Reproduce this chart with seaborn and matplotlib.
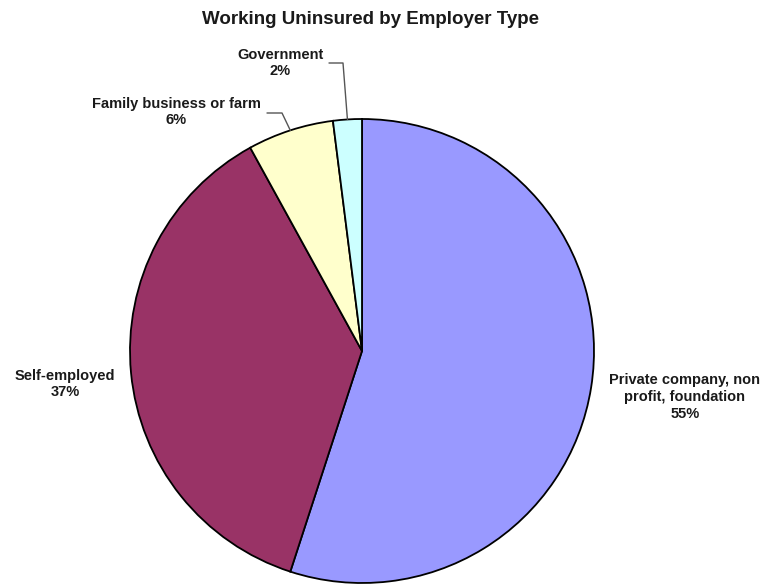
import matplotlib
matplotlib.use("Agg")
import numpy as np
import matplotlib.pyplot as plt
import seaborn as sns

# --- Data ---
title = "Working Uninsured by Employer Type"
categories = [
    "Private company, non\nprofit, foundation",
    "Self-employed",
    "Family business or farm",
    "Government",
]
shares = [55, 37, 6, 2]
colors = ["#9999FF", "#993366", "#FFFFCC", "#CCFFFF"]

# --- Style ---
sns.set_theme(style="white")
plt.rcParams["font.family"] = ["Liberation Sans", "DejaVu Sans"]

W, H = 765, 587
CX, CY, R = 362, 351, 232  # pie centre / radius in pixels


def px(x, y):
    # pixel position -> pie data coords
    return (x - CX) / R, (CY - y) / R


fig = plt.figure(figsize=(W / 100, H / 100), dpi=100)
ax = fig.add_axes([(CX - R) / W, (H - CY - R) / H, 2 * R / W, 2 * R / H])
wedges, _ = ax.pie(
    shares,
    colors=colors,
    startangle=90,
    counterclock=False,
    wedgeprops=dict(edgecolor="black", linewidth=1.3),
)
ax.set_xlim(-1, 1)
ax.set_ylim(-1, 1)
ax.set_aspect("equal")
ax.axis("off")

# --- Labels ---
label_pos = [(685, 397), (65, 384), (176, 112), (280, 63)]
leader_start = [None, None, (267, 113), (329, 63)]
leader_elbow = [None, None, (282, 113), (343, 63)]

for w, name, val, pos, st, el in zip(
    wedges, categories, shares, label_pos, leader_start, leader_elbow
):
    lx, ly = px(*pos)
    ax.text(lx, ly, f"{name}\n{val}%", ha="center", va="center",
            fontsize=10.5, fontweight="bold", color="#1a1a1a",
            linespacing=1.25, clip_on=False)
    if st is not None:
        ang = np.deg2rad((w.theta1 + w.theta2) / 2)
        sx, sy = px(*st)
        ex, ey = px(*el)
        ax.plot([sx, ex, np.cos(ang)], [sy, ey, np.sin(ang)],
                color="#555555", linewidth=1.0, clip_on=False)

fig.text(370 / W, 1 - 20 / H, title, ha="center", va="center",
         fontsize=13.5, fontweight="bold", color="#1a1a1a")

fig.savefig("out.png", dpi=100)
